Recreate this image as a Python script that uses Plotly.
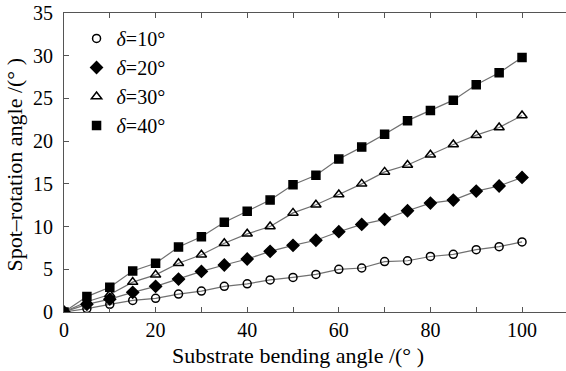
import plotly.graph_objects as go

bend = [0, 5, 10, 15, 20, 25, 30, 35, 40, 45, 50, 55, 60, 65, 70, 75, 80, 85, 90, 95, 100]
d10 = [0, 0.4, 0.9, 1.35, 1.6, 2.1, 2.45, 3.0, 3.3, 3.75, 4.05, 4.4, 5.0, 5.15, 5.9, 6.0, 6.5, 6.75, 7.3, 7.65, 8.2]
d20 = [0, 0.9, 1.5, 2.3, 3.0, 3.85, 4.75, 5.5, 6.2, 7.1, 7.8, 8.4, 9.4, 10.25, 10.85, 11.85, 12.75, 13.1, 14.15, 14.75, 15.75]
d30 = [0, 1.2, 2.05, 3.5, 4.35, 5.7, 6.7, 8.05, 9.15, 10.0, 11.6, 12.55, 13.75, 15.0, 16.4, 17.2, 18.4, 19.6, 20.7, 21.6, 23.0]
d40 = [0, 1.8, 2.9, 4.8, 5.7, 7.6, 8.8, 10.5, 11.8, 13.1, 14.9, 16.0, 17.9, 19.3, 20.8, 22.4, 23.6, 24.8, 26.6, 28.0, 29.8]

series_names = ["<i>δ</i>=10°", "<i>δ</i>=20°", "<i>δ</i>=30°", "<i>δ</i>=40°"]
series_vals = [d10, d20, d30, d40]
symbols = ["circle-open", "diamond", "triangle-up-open", "square"]
sizes = [8, 9, 9, 8]

x_tickvals = [0, 10, 20, 30, 40, 50, 60, 70, 80, 90, 100]
x_ticktext = ["0", "", "20", "", "40", "", "60", "", "80", "", "100"]
y_tickvals = [0, 5, 10, 15, 20, 25, 30, 35]
x_title = "Substrate bending angle /(° )"
y_title = "Spot–rotation angle /(° )"

FF = "Liberation Serif"
F20 = dict(family=FF, size=20, color="black")
F22 = dict(family=FF, size=22, color="black")

fig = go.Figure()
for vals in series_vals:
    fig.add_trace(go.Scatter(x=bend, y=vals, mode="lines", showlegend=False,
                             line=dict(color="#707070", width=1.2)))
for name, vals, sym, sz in zip(series_names, series_vals, symbols, sizes):
    fig.add_trace(go.Scatter(x=bend, y=vals, mode="markers", name=name,
                             marker=dict(symbol=sym, size=sz, color="black",
                                         line=dict(color="black", width=1.5))))

fig.add_annotation(text=x_title, xref="x", yref="paper", x=51, y=0, yshift=-43,
                   xanchor="center", yanchor="middle", showarrow=False, font=F22)
fig.add_annotation(text=y_title, xref="paper", yref="paper", x=0, y=0.49, xshift=-50,
                   xanchor="center", yanchor="middle", textangle=-90,
                   showarrow=False, font=F22)

fig.update_layout(
    template="none",
    width=566, height=371,
    margin=dict(l=64, r=0, t=13, b=59),
    paper_bgcolor="white", plot_bgcolor="white",
    font=F20,
    legend=dict(x=0.025, y=0.98, xanchor="left", yanchor="top",
                bgcolor="rgba(0,0,0,0)", font=F20,
                tracegroupgap=0, itemwidth=30),
    xaxis=dict(range=[0, 109.6], tickvals=x_tickvals, ticktext=x_ticktext,
               tickfont=F20,
               ticks="inside", ticklen=5, tickcolor="#555", showline=True,
               linecolor="#555", linewidth=1.2, mirror="ticks", showgrid=False,
               zeroline=False),
    yaxis=dict(range=[0, 35], tickvals=y_tickvals, tickfont=F20,
               ticks="inside", ticklen=5, tickcolor="#555", showline=True,
               linecolor="#555", linewidth=1.2, showgrid=False, zeroline=False,
               ticklabelstandoff=6),
)

fig.write_html("out.html", config={"displayModeBar": False},
               post_script="document.body.style.margin='0';")
